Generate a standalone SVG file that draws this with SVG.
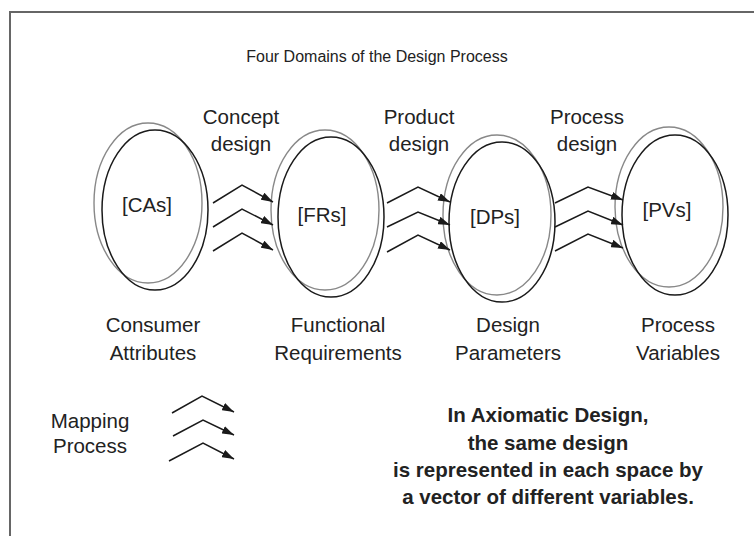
<svg xmlns="http://www.w3.org/2000/svg" width="754" height="536" viewBox="0 0 754 536">
<defs>
<style>
text{font-family:"Liberation Sans",Arial,sans-serif;fill:#222;text-anchor:middle}
.lbl{font-size:20.5px}
.ttl{font-size:16px}
.bold{font-size:20.5px;font-weight:bold}
.outer{fill:none;stroke:#888;stroke-width:1.4}
.inner{fill:none;stroke:#1a1a1a;stroke-width:1.5}
.arr{fill:none;stroke:#1a1a1a;stroke-width:1.5;marker-end:url(#ah)}
</style>
<marker id="ah" viewBox="0 0 12 8" refX="12" refY="4" markerWidth="12" markerHeight="8" markerUnits="userSpaceOnUse" orient="auto">
<path d="M0,0 L12,4 L0,8 Z" fill="#1a1a1a"/>
</marker>
</defs>
<rect width="754" height="536" fill="#fff"/>
<path d="M10,536 V12 H754" fill="none" stroke="#666" stroke-width="2"/>
<text class="ttl" x="377" y="62">Four Domains of the Design Process</text>

<g id="node-cas">
<ellipse class="outer" cx="148" cy="203" rx="54" ry="80"/>
<ellipse class="inner" cx="155" cy="210" rx="53" ry="80"/>
<text class="lbl" x="147" y="212">[CAs]</text>
</g>
<g id="node-frs">
<ellipse class="outer" cx="325" cy="210" rx="54" ry="80"/>
<ellipse class="inner" cx="331" cy="217" rx="53" ry="80"/>
<text class="lbl" x="322" y="222">[FRs]</text>
</g>
<g id="node-dps">
<ellipse class="outer" cx="497" cy="215" rx="54" ry="80"/>
<ellipse class="inner" cx="502" cy="222" rx="53" ry="80"/>
<text class="lbl" x="495" y="224">[DPs]</text>
</g>
<g id="node-pvs">
<ellipse class="outer" cx="669" cy="207" rx="54" ry="80"/>
<ellipse class="inner" cx="675" cy="215" rx="53" ry="80"/>
<text class="lbl" x="667" y="217">[PVs]</text>
</g>

<g id="connectors">
<path class="arr" d="M213,203 L242,185 L273,202"/>
<path class="arr" d="M213,227 L242,209 L273,225"/>
<path class="arr" d="M213,251 L242,233 L273,250"/>
<path class="arr" d="M387,203 L418,187 L450,202"/>
<path class="arr" d="M387,227 L418,212 L450,225"/>
<path class="arr" d="M387,252 L418,235 L450,250"/>
<path class="arr" d="M555,203 L588,187 L623,200"/>
<path class="arr" d="M555,227 L588,211 L623,225"/>
<path class="arr" d="M555,251 L588,234 L623,248"/>
</g>

<g id="mapping-legend">
<path class="arr" d="M172,413 L202,396 L234,412"/>
<path class="arr" d="M173,436 L203,420 L234,435"/>
<path class="arr" d="M169,461 L203,443 L234,459"/>
<text class="lbl"><tspan x="90" y="428">Mapping</tspan><tspan x="90" y="453">Process</tspan></text>
</g>

<text class="lbl"><tspan x="241" y="124">Concept</tspan><tspan x="241" y="151">design</tspan></text>
<text class="lbl"><tspan x="419" y="124">Product</tspan><tspan x="419" y="151">design</tspan></text>
<text class="lbl"><tspan x="587" y="124">Process</tspan><tspan x="587" y="151">design</tspan></text>

<text class="lbl"><tspan x="153" y="332">Consumer</tspan><tspan x="153" y="360">Attributes</tspan></text>
<text class="lbl"><tspan x="338" y="332">Functional</tspan><tspan x="338" y="360">Requirements</tspan></text>
<text class="lbl"><tspan x="508" y="332">Design</tspan><tspan x="508" y="360">Parameters</tspan></text>
<text class="lbl"><tspan x="678" y="332">Process</tspan><tspan x="678" y="360">Variables</tspan></text>

<text class="bold"><tspan x="548" y="422">In Axiomatic Design,</tspan><tspan x="548" y="450">the same design</tspan><tspan x="548" y="477">is represented in each space by</tspan><tspan x="548" y="504">a vector of different variables.</tspan></text>
</svg>
